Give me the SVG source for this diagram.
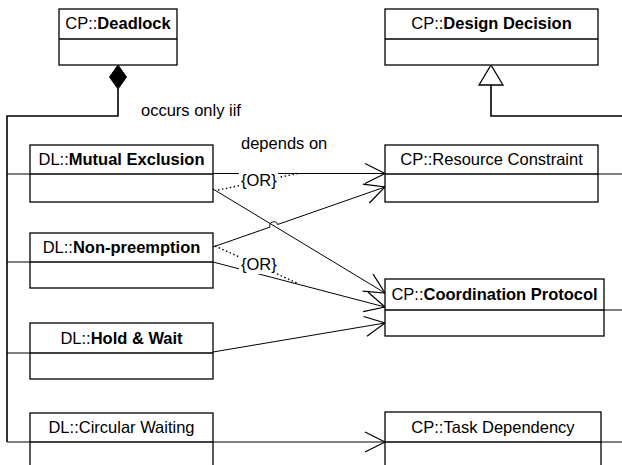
<svg xmlns="http://www.w3.org/2000/svg" width="622" height="465" viewBox="0 0 622 465">
<style>
  .box { fill: #fff; stroke: #000; stroke-width: 1.3; }
  .sep { stroke: #000; stroke-width: 1.3; }
  .t { font-family: "Liberation Sans", Arial, sans-serif; font-size: 16.5px; fill: #000; }
  .c { text-anchor: middle; }
  .b { font-weight: bold; }
  .ln { fill: none; stroke: #000; stroke-width: 1; }
  .comp { fill: none; stroke: #000; stroke-width: 1.6; }
  .dot { fill: none; stroke: #000; stroke-width: 1.4; stroke-dasharray: 1.5 2.5; }
  .dep { fill: none; stroke: #000; stroke-width: 1; marker-end: url(#open); }
</style>
<defs>
  <marker id="open" markerUnits="userSpaceOnUse" markerWidth="26" markerHeight="26" viewBox="-23 -13 26 26" refX="0" refY="0" orient="auto" overflow="visible">
    <path d="M-20,-10 L0,0 L-20,10" fill="none" stroke="#000" stroke-width="1.2"/>
  </marker>
</defs>
<rect width="622" height="465" fill="#fff"/>

<g id="connectors">
  <path class="comp" d="M118,89 V116 H7 V442"/>
  <path class="ln" d="M7,174 H30 M7,262 H30 M7,353 H30 M7,442 H30"/>
  <polygon points="118,65 126.5,77 118,89 109.5,77" fill="#000" stroke="#000" stroke-width="1"/>
  <path class="comp" d="M491,85 V116 H622"/>
  <polygon points="491,65 503,85 479,85" fill="#fff" stroke="#000" stroke-width="1.3"/>
  <path class="ln" d="M598,174 H622 M604,310 H622 M601,442 H622"/>
  <path class="dep" d="M213,173.5 H385"/>
  <path class="dep" d="M213,189 L385,293"/>
  <path class="dep" d="M213,247 L270,227.1 A4,4 0 0 1 277.6,224.5 L385,187"/>
  <path class="dep" d="M213,262 L385,307"/>
  <path class="dep" d="M213,352 L385,323"/>
  <path class="dep" d="M213,442 H385"/>
  <path class="dot" d="M218,190 L300,173"/>
  <path class="dot" d="M215,246 L297,283"/>
  <rect x="239" y="171" width="39" height="20" fill="#fff"/>
  <text class="t" x="241" y="186">{OR}</text>
  <rect x="239" y="257" width="38" height="17" fill="#fff"/>
  <text class="t" x="241" y="270">{OR}</text>
  <text class="t" x="141" y="116">occurs only iif</text>
  <text class="t" x="241" y="149">depends on</text>
</g>

<g id="deadlock">
  <rect class="box" x="59" y="9" width="118" height="56"/>
  <line class="sep" x1="59" y1="39" x2="177" y2="39"/>
  <text class="t c" x="118" y="29">CP::<tspan class="b">Deadlock</tspan></text>
</g>
<g id="design-decision">
  <rect class="box" x="385" y="9" width="213" height="56"/>
  <line class="sep" x1="385" y1="39" x2="598" y2="39"/>
  <text class="t c" x="491.5" y="29">CP::<tspan class="b">Design Decision</tspan></text>
</g>
<g id="mutual-exclusion">
  <rect class="box" x="30" y="145" width="183" height="57"/>
  <line class="sep" x1="30" y1="174" x2="213" y2="174"/>
  <text class="t c" x="121.5" y="165">DL::<tspan class="b">Mutual Exclusion</tspan></text>
</g>
<g id="non-preemption">
  <rect class="box" x="30" y="233" width="183" height="55"/>
  <line class="sep" x1="30" y1="262" x2="213" y2="262"/>
  <text class="t c" x="121.5" y="253">DL::<tspan class="b">Non-preemption</tspan></text>
</g>
<g id="hold-wait">
  <rect class="box" x="30" y="323" width="183" height="56"/>
  <line class="sep" x1="30" y1="353" x2="213" y2="353"/>
  <text class="t c" x="121.5" y="344">DL::<tspan class="b">Hold &amp; Wait</tspan></text>
</g>
<g id="circular-waiting">
  <rect class="box" x="30" y="413" width="183" height="62"/>
  <line class="sep" x1="30" y1="442" x2="213" y2="442"/>
  <text class="t c" x="121.5" y="433">DL::Circular Waiting</text>
</g>
<g id="resource-constraint">
  <rect class="box" x="385" y="145" width="213" height="57"/>
  <line class="sep" x1="385" y1="174" x2="598" y2="174"/>
  <text class="t c" x="491.5" y="165">CP::Resource Constraint</text>
</g>
<g id="coordination-protocol">
  <rect class="box" x="385" y="279" width="219" height="57"/>
  <line class="sep" x1="385" y1="310" x2="604" y2="310"/>
  <text class="t c" x="494.5" y="300">CP::<tspan class="b">Coordination Protocol</tspan></text>
</g>
<g id="task-dependency">
  <rect class="box" x="385" y="412" width="216" height="62"/>
  <line class="sep" x1="385" y1="442" x2="601" y2="442"/>
  <text class="t c" x="493" y="433">CP::Task Dependency</text>
</g>
</svg>
